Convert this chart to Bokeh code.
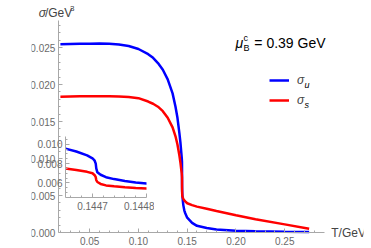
from bokeh.plotting import figure
from bokeh.models import (Range1d, FixedTicker, NumeralTickFormatter, Label, LinearAxis,
                          Legend, LegendItem, ColumnDataSource)
from bokeh.layouts import column
from bokeh.embed import file_html
from bokeh.resources import INLINE

# ---------------- data ----------------
T = [0.020, 0.030, 0.040, 0.050, 0.060, 0.070, 0.080, 0.090, 0.100,
     0.110, 0.115, 0.120, 0.125, 0.130, 0.135, 0.138, 0.140, 0.142, 0.143, 0.144, 0.1444,
     0.14465, 0.14467, 0.14469, 0.14470, 0.144704, 0.144706, 0.144707, 0.144709,
     0.144715, 0.144725, 0.14474, 0.14476, 0.14478, 0.14480,
     0.1449, 0.1450, 0.1455, 0.1460, 0.1470, 0.1480, 0.1500, 0.1550, 0.1600,
     0.1700, 0.1800, 0.2000, 0.2200, 0.2500, 0.2750]

sigma_u = [0.02545, 0.02548, 0.02550, 0.02552, 0.02553, 0.02550, 0.02540, 0.02520, 0.02480,
           0.02410, 0.02360, 0.02290, 0.02200, 0.02070, 0.01880, 0.01700, 0.01550, 0.01340,
           0.01220, 0.01070, 0.01010,
           0.00955, 0.00925, 0.00885, 0.00855, 0.00830, 0.00800, 0.00750, 0.00710,
           0.00685, 0.00660, 0.00640, 0.00620, 0.00605, 0.00595,
           0.00540, 0.00510, 0.00430, 0.00370, 0.00300, 0.00260, 0.00200, 0.00130, 0.00090,
           0.00060, 0.00040, 0.00025, 0.00016, 0.00010, 0.00007]

sigma_s = [0.01835, 0.01838, 0.01840, 0.01842, 0.01842, 0.01841, 0.01838, 0.01832, 0.01815,
           0.01770, 0.01740, 0.01700, 0.01640, 0.01550, 0.01420, 0.01300, 0.01190, 0.01040,
           0.00950, 0.00840, 0.00800,
           0.00750, 0.00735, 0.00715, 0.00700, 0.00680, 0.00660, 0.00630, 0.00610,
           0.00590, 0.00575, 0.00565, 0.00555, 0.00548, 0.00542,
           0.00510, 0.00490, 0.00470, 0.00455, 0.00435, 0.00420, 0.00395, 0.00370, 0.00350,
           0.00320, 0.00290, 0.00232, 0.00180, 0.00110, 0.00050]

x_major = [0.05, 0.10, 0.15, 0.20, 0.25]
x_minor = [0.02, 0.03, 0.04, 0.06, 0.07, 0.08, 0.09, 0.11, 0.12, 0.13, 0.14,
           0.16, 0.17, 0.18, 0.19, 0.21, 0.22, 0.23, 0.24, 0.26, 0.27, 0.28]
y_major = [0.000, 0.005, 0.010, 0.015, 0.020, 0.025]
y_minor = [0.001, 0.002, 0.003, 0.004, 0.006, 0.007, 0.008, 0.009, 0.011, 0.012, 0.013,
           0.014, 0.016, 0.017, 0.018, 0.019, 0.021, 0.022, 0.023, 0.024, 0.026, 0.027, 0.028]

ix_major = [0.1447, 0.1448]
ix_minor = [0.14466, 0.14468, 0.14472, 0.14474, 0.14476, 0.14478]
iy_major = [0.006, 0.008, 0.010]
iy_minor = [0.0050, 0.0055, 0.0065, 0.0070, 0.0075, 0.0085, 0.0090, 0.0095, 0.0105]

mu_text = "= 0.39 GeV"

# ---------------- style / geometry ----------------
FONT = "Liberation Sans"
AX = "#a8a8a8"
LAB = "#6a6a6a"
TXT = "#444444"
BLUE = "#0000ff"
RED = "#ff0000"

W, H = 371, 248
# pixel calibration of the main plot (window pixels)
PXX, X_AT, X_PX = 1090.0, 0.05, 65.0      # px per GeV, reference tick, its pixel
PXY, Y_AT, Y_PX = 7400.0, 0.0, 232.0      # px per GeV^3, reference tick, its pixel
AX_LEFT, AX_RIGHT, AX_TOP = 30, 327, 20   # axis extents in pixels


def dx(px):
    return X_AT + (px - X_PX) / PXX


def dy(py):
    return Y_AT + (Y_PX - py) / PXY


src = ColumnDataSource(dict(T=T, su=sigma_u, ss=sigma_s))


def style_axis(ax, ticks, minor, fmt, standoff):
    ax.ticker = FixedTicker(ticks=ticks, minor_ticks=minor)
    ax.formatter = NumeralTickFormatter(format=fmt)
    ax.axis_line_color = AX
    ax.major_tick_line_color = AX
    ax.minor_tick_line_color = AX
    ax.major_tick_in = 4
    ax.major_tick_out = 0
    ax.minor_tick_in = 2
    ax.minor_tick_out = 0
    ax.major_label_text_color = LAB
    ax.major_label_text_font = FONT
    ax.major_label_text_font_size = "10px"
    ax.major_label_standoff = standoff


p = figure(width=W, height=H, output_backend="svg", toolbar_location=None,
           x_range=Range1d(dx(0), dx(W)), y_range=Range1d(dy(H), dy(0)),
           x_axis_location=None, y_axis_location=None,
           min_border=0, min_border_left=0, min_border_right=0,
           min_border_top=0, min_border_bottom=0)
p.xgrid.visible = False
p.ygrid.visible = False
p.outline_line_color = None

xax = LinearAxis(fixed_location=0.0, bounds=(dx(AX_LEFT), dx(AX_RIGHT)))
yax = LinearAxis(fixed_location=dx(AX_LEFT), bounds=(0.0, dy(AX_TOP)))
style_axis(xax, x_major, x_minor, "0.00", 4)
style_axis(yax, y_major, y_minor, "0.000", 3)
p.add_layout(xax, "below")
p.add_layout(yax, "left")

rb = p.line("T", "su", source=src, line_color=BLUE, line_width=2.5)
rr = p.line("T", "ss", source=src, line_color=RED, line_width=2.5)

legend = Legend(items=[LegendItem(label="σ", renderers=[rb]),
                       LegendItem(label="σ", renderers=[rr])],
                location=(238, 138), orientation="vertical",
                glyph_width=20, glyph_height=20, label_standoff=8, spacing=0,
                padding=0, margin=0, border_line_alpha=0, background_fill_alpha=0,
                label_text_font=FONT, label_text_font_style="italic",
                label_text_font_size="12px", label_height=20)
p.add_layout(legend)


def lab(px, py, text, size, style="normal", color="black"):
    p.add_layout(Label(x=dx(px), y=dy(py), text=text,
                       text_font=FONT, text_font_size=size, text_font_style=style,
                       text_align="left", text_baseline="middle", text_color=color))


lab(305, 84, "u", "9px", "italic")
lab(305, 104, "s", "9px", "italic")
lab(228, 42, "μ", "14px", "italic")
lab(237, 37, "c", "9px")
lab(237, 47, "B", "9px")
lab(249, 42, mu_text, "14px")
lab(335, 232, "T/GeV", "12px", color=TXT)
lab(8, 12, "σ", "12px", "italic", color=TXT)
lab(15, 12, "/GeV", "12px", color=TXT)
lab(43, 8, "3", "8px", color=TXT)

# ---------------- inset ----------------
IL, IT = 34, 131          # inset canvas top-left in window pixels
q = figure(width=120, height=82, output_backend="svg", toolbar_location=None,
           x_range=Range1d(0.14465, 0.1448), y_range=Range1d(0.0045, 0.0108),
           min_border_left=30, min_border_right=8, min_border_top=5, min_border_bottom=16,
           styles={"margin-left": f"{IL}px", "margin-top": f"{IT - H}px"})
style_axis(q.xaxis[0], ix_major, ix_minor, "0.0000", 4)
style_axis(q.yaxis[0], iy_major, iy_minor, "0.000", 3)
q.xgrid.visible = False
q.ygrid.visible = False
q.outline_line_color = None
q.background_fill_alpha = 0
q.border_fill_alpha = 0
q.line("T", "su", source=src, line_color=BLUE, line_width=2.5)
q.line("T", "ss", source=src, line_color=RED, line_width=2.5)

layout = column(p, q)

open("out.html", "w").write(file_html(layout, INLINE))
